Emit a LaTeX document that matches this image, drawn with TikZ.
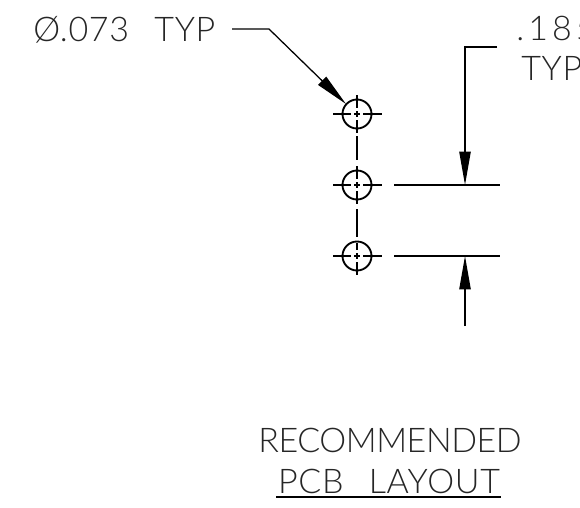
\documentclass[tikz,border=0pt]{standalone}
\usepackage{fontspec}
\setmainfont{Lato}[UprightFont=* Light,LetterSpace=2]
\usetikzlibrary{arrows.meta}
\tikzset{
  x=0.75pt,y=-0.75pt,
  hole/.style={draw=black,line width=1.4pt,circle,inner sep=0pt,minimum size=21.75pt},
  centerline/.style={line width=0.95pt},
  dimline/.style={line width=0.95pt},
  headtip/.style={-{Triangle[length=25pt,width=8.5pt]}},
  drawtext/.style={anchor=base west,inner sep=0pt,font=\fontsize{25.5pt}{28pt}\selectfont,text=black!85},
}
\begin{document}
\begin{tikzpicture}
\useasboundingbox (0,0) rectangle (580,507);
\node[hole] (h1) at (357,114) {};
\node[hole] (h2) at (357,185) {};
\node[hole] (h3) at (357,256) {};
\coordinate (t1) at (357,95);
\coordinate (b3) at (357,275);
\draw[centerline] (t1) -- (357,108) (357,111) -- (357,117) (357,120) -- (357,133);
\draw[centerline] (357,136) -- (357,160) (357,166) -- (357,179) (357,182) -- (357,188) (357,191) -- (357,204);
\draw[centerline] (357,209) -- (357,237) (357,243) -- (357,250) (357,253) -- (357,259) (357,262) -- (b3);
\foreach \y in {114,185,256}{
  \draw[centerline] (333,\y) -- (351,\y) (354,\y) -- (360,\y) (363,\y) -- (382,\y);
}
\coordinate (e1a) at (394,185); \coordinate (e1b) at (500,185);
\coordinate (e2a) at (394,256); \coordinate (e2b) at (500,256);
\draw[dimline] (e1a) -- (e1b);
\draw[dimline] (e2a) -- (e2b);
\coordinate (d1) at (497,47); \coordinate (d2) at (465,47);
\coordinate (d3) at (465,185); \coordinate (d4) at (465,326); \coordinate (d5) at (465,256);
\draw[dimline,headtip] (d1) -- (d2) -- (d3);
\draw[dimline,headtip] (d4) -- (d5);
\coordinate (l1) at (232,29); \coordinate (l2) at (269,29); \coordinate (l3) at (346,104);
\draw[dimline,headtip] (l1) -- (l2) -- (l3);
\node[drawtext] (t0) at (33,41) {Ø.073\hspace{19pt}TYP};
\node[drawtext] (t2) at (516,40) {\addfontfeature{LetterSpace=12}.185};
\node[drawtext] (t3) at (521,80) {TYP};
\node[drawtext,anchor=base] (t4) at (390,452) {\addfontfeature{LetterSpace=-1.3}RECOMMENDED};
\node[drawtext,anchor=base] (t5) at (389,493) {PCB\hspace{19pt}LAYOUT};
\coordinate (u1) at (276,497); \coordinate (u2) at (501,497);
\draw[line width=0.95pt] (u1) -- (u2);
\end{tikzpicture}
\end{document}
